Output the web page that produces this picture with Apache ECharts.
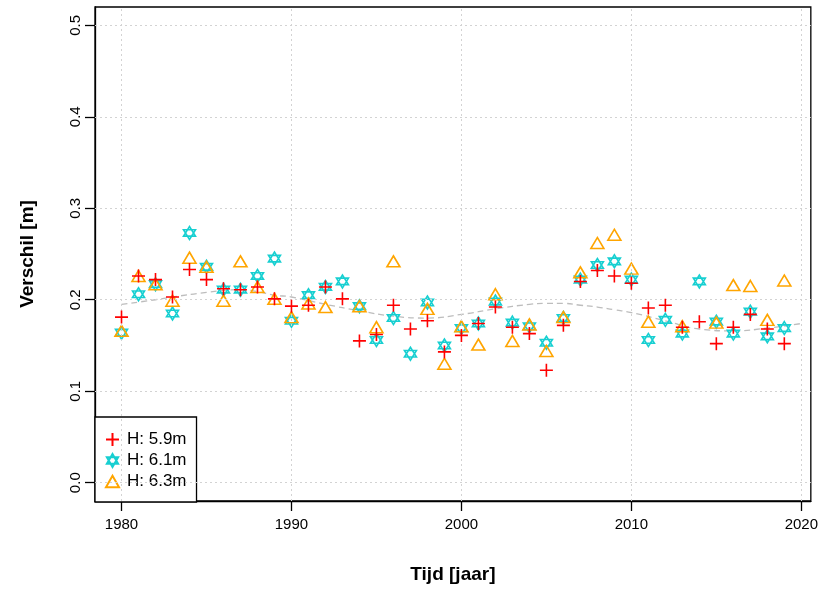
<!DOCTYPE html>
<html>
<head>
<meta charset="utf-8">
<script src="https://cdn.jsdelivr.net/npm/echarts@6/dist/echarts.min.js"></script>
<style>
  html, body { margin: 0; padding: 0; background: #fff; }
  #chart { width: 821px; height: 594px; }
</style>
</head>
<body>
<div id="chart"></div>
<script>
const years = [];
for (let y = 1980; y <= 2019; y++) years.push(y);

const h59 = [0.181, 0.226, 0.222, 0.203, 0.233, 0.222, 0.212, 0.211, 0.214, 0.201,
  0.193, 0.194, 0.214, 0.201, 0.155, 0.162, 0.194, 0.168, 0.177, 0.143,
  0.161, 0.174, 0.192, 0.170, 0.163, 0.123, 0.172, 0.220, 0.232, 0.226,
  0.218, 0.191, 0.194, 0.170, 0.176, 0.152, 0.170, 0.184, 0.168, 0.152];

const h61 = [0.164, 0.206, 0.217, 0.185, 0.273, 0.236, 0.211, 0.211, 0.226, 0.245,
  0.177, 0.205, 0.214, 0.220, 0.193, 0.156, 0.180, 0.141, 0.197, 0.150,
  0.169, 0.174, 0.198, 0.175, 0.171, 0.153, 0.180, 0.222, 0.238, 0.242,
  0.222, 0.156, 0.178, 0.163, 0.220, 0.176, 0.163, 0.187, 0.160, 0.169];

const h63 = [0.166, 0.226, 0.217, 0.199, 0.246, 0.236, 0.199, 0.242, 0.214, 0.201,
  0.181, 0.196, 0.192, null, 0.193, 0.170, 0.242, null, 0.190, 0.130,
  0.171, 0.151, 0.206, 0.155, 0.173, 0.144, 0.181, 0.230, 0.262, 0.271,
  0.234, 0.176, null, 0.171, null, 0.175, 0.216, 0.215, 0.178, 0.221];

// smooth trend (dashed grey)
const trendYears = [1980, 1982, 1983, 1985, 1987, 1988, 1989, 1990, 1992, 1994, 1996, 1998,
  2000, 2002, 2004, 2005, 2006, 2007, 2008, 2009, 2010, 2012, 2014, 2016, 2018, 2020];
const trendVals = [0.195, 0.200, 0.203, 0.208, 0.211, 0.209, 0.205, 0.203, 0.195, 0.188, 0.182, 0.180,
  0.184, 0.190, 0.195, 0.196, 0.196, 0.194, 0.192, 0.189, 0.186, 0.177, 0.168, 0.166, 0.169, 0.174];

const xTicks = [1980, 1990, 2000, 2010, 2020];
const yTicks = [0, 0.1, 0.2, 0.3, 0.4, 0.5];

const seriesNames = ['H: 5.9m', 'H: 6.1m', 'H: 6.3m'];

const plusPath = 'path://M0,5L10,5M5,0L5,10';
const starPath = 'path://M5,0L10,8.66L0,8.66Z M0,2.89L10,2.89L5,11.55Z';
const triPath = 'path://M5,0L10,8.66L0,8.66Z';

const pairs = (xs, ys) => xs.map((x, i) => [x, ys[i]]);

const font = 'Liberation Sans, Arial, sans-serif';

const chart = echarts.init(document.getElementById('chart'));
chart.setOption({
  animation: false,
  backgroundColor: '#fff',
  grid: {
    left: 95, right: 10, top: 7, bottom: 93,
    show: true, borderColor: '#000', borderWidth: 1.3, backgroundColor: 'transparent'
  },
  legend: {
    data: seriesNames.map((n, i) => ({ name: n, icon: [plusPath, starPath, triPath][i] })),
    orient: 'vertical',
    left: 95, bottom: 92,
    backgroundColor: '#fff',
    borderColor: '#000', borderWidth: 1.3, borderRadius: 0,
    padding: [12, 10, 10, 10],
    itemGap: 0,
    itemWidth: 13, itemHeight: 13,
    textStyle: { fontFamily: font, fontSize: 17, color: '#000', lineHeight: 21, padding: [0, 0, 0, 3] }
  },
  xAxis: {
    type: 'value',
    min: 1978.44, max: 2020.56,
    name: 'Tijd [jaar]',
    nameLocation: 'middle',
    nameGap: 64,
    nameTextStyle: { fontFamily: font, fontSize: 19, fontWeight: 'bold', color: '#000' },
    axisLine: { show: true, onZero: false, lineStyle: { color: '#000', width: 1.3 } },
    axisTick: { show: true, length: 10, customValues: xTicks, lineStyle: { color: '#000', width: 1.3 } },
    axisLabel: {
      customValues: xTicks, margin: 16, fontFamily: font, fontSize: 15, color: '#000',
      formatter: v => String(v)
    },
    splitLine: { show: false }
  },
  yAxis: {
    type: 'value',
    min: -0.02, max: 0.52,
    name: 'Verschil [m]',
    nameLocation: 'middle',
    nameGap: 58,
    nameTextStyle: { fontFamily: font, fontSize: 19, fontWeight: 'bold', color: '#000' },
    axisLine: { show: true, onZero: false, lineStyle: { color: '#000', width: 1.3 } },
    axisTick: { show: true, length: 10, customValues: yTicks, lineStyle: { color: '#000', width: 1.3 } },
    axisLabel: {
      customValues: yTicks, rotate: 90, margin: 12,
      fontFamily: font, fontSize: 15, color: '#000',
      formatter: v => v.toFixed(1)
    },
    splitLine: { show: false }
  },
  series: [
    {
      name: 'trend',
      type: 'line',
      data: pairs(trendYears, trendVals),
      smooth: 0.5,
      symbol: 'none',
      silent: true,
      z: 1,
      lineStyle: { color: '#bdbdbd', width: 1.3, type: [6, 4] },
      markLine: {
        silent: true,
        symbol: 'none',
        label: { show: false },
        lineStyle: { color: '#d3d3d3', width: 1, type: [2, 3] },
        data: xTicks.map(v => ({ xAxis: v })).concat(yTicks.map(v => ({ yAxis: v })))
      }
    },
    {
      name: seriesNames[1],
      type: 'scatter',
      data: pairs(years, h61),
      symbol: starPath,
      symbolSize: [12, 13],
      z: 3,
      itemStyle: { color: 'transparent', borderColor: '#17cfd1', borderWidth: 1.6, opacity: 1 }
    },
    {
      name: seriesNames[2],
      type: 'scatter',
      data: pairs(years, h63),
      symbol: triPath,
      symbolSize: [13, 11],
      z: 4,
      itemStyle: { color: 'transparent', borderColor: '#ffa500', borderWidth: 1.6, opacity: 1 }
    },
    {
      name: seriesNames[0],
      type: 'scatter',
      data: pairs(years, h59),
      symbol: plusPath,
      symbolSize: [13, 13],
      z: 5,
      itemStyle: { color: 'transparent', borderColor: '#ff0000', borderWidth: 1.6, opacity: 1 }
    }
  ]
});
</script>
</body>
</html>
